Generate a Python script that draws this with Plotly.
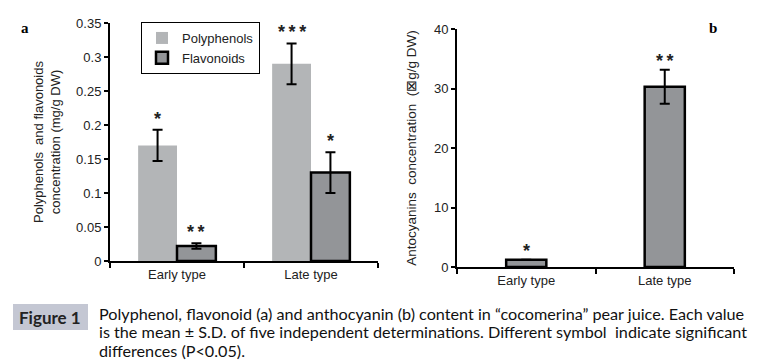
import plotly.graph_objects as go

# ---- data ----
categories = ["Early type", "Late type"]
polyphenols = [0.17, 0.29]
polyphenols_sd = [0.023, 0.03]
flavonoids = [0.022, 0.13]
flavonoids_sd = [0.004, 0.03]
poly_sig = ["*", "***"]
flav_sig = ["**", "*"]

anthocyanins = [1.2, 30.3]
anthocyanins_sd = [0.0, 2.85]
antho_sig = ["*", "**"]

caption_label = "Figure 1"
caption_lines = [
    "Polyphenol, flavonoid (a) and anthocyanin (b) content in \u201ccocomerina\u201d pear juice. Each value",
    "is the mean \u00b1 S.D. of five independent determinations. Different symbol  indicate significant",
    "differences (P<0.05).",
]

LIGHT = "#b3b5b7"
DARK = "#939598"
W = 0.29
FONT = "Liberation Sans, Arial, sans-serif"

fig = go.Figure()

fig.add_trace(go.Bar(
    x=categories, y=polyphenols, name="Polyphenols",
    width=W, offset=-W, marker=dict(color=LIGHT, line=dict(width=0)),
    error_y=dict(type="data", array=polyphenols_sd, color="black", thickness=2, width=5),
    xaxis="x", yaxis="y"))
fig.add_trace(go.Bar(
    x=categories, y=flavonoids, name="Flavonoids",
    width=W, offset=0, marker=dict(color=DARK, line=dict(color="black", width=2.5)),
    error_y=dict(type="data", array=flavonoids_sd, color="black", thickness=2, width=5),
    xaxis="x", yaxis="y"))
fig.add_trace(go.Bar(
    x=categories, y=anthocyanins, name="Anthocyanins", showlegend=False,
    width=W, offset=-W / 2, marker=dict(color=DARK, line=dict(color="black", width=2.5)),
    error_y=dict(type="data", array=anthocyanins_sd, color="black", thickness=2, width=5),
    xaxis="x2", yaxis="y2"))


def stars(s):
    return "<b>" + "\u2009".join(s) + "</b>"


STAR_FONT = dict(family=FONT, size=18, color="#222")
ann = []
for i in range(len(categories)):
    ann.append(dict(x=i - W / 2, y=polyphenols[i] + polyphenols_sd[i], xref="x", yref="y",
                    text=stars(poly_sig[i]), showarrow=False, yanchor="bottom", yshift=-1,
                    font=STAR_FONT))
    ann.append(dict(x=i + W / 2, y=flavonoids[i] + flavonoids_sd[i], xref="x", yref="y",
                    text=stars(flav_sig[i]), showarrow=False, yanchor="bottom", yshift=-1,
                    font=STAR_FONT))
    ann.append(dict(x=i, y=anthocyanins[i] + anthocyanins_sd[i], xref="x2", yref="y2",
                    text=stars(antho_sig[i]), showarrow=False, yanchor="bottom", yshift=-3,
                    font=STAR_FONT))

ann += [
    dict(x=25 / 775, y=1 - 28 / 364, xref="paper", yref="paper", text="<b>a</b>", showarrow=False,
         xanchor="center", yanchor="middle",
         font=dict(family="Liberation Serif, serif", size=15, color="black")),
    dict(x=713 / 775, y=1 - 28 / 364, xref="paper", yref="paper", text="<b>b</b>", showarrow=False,
         xanchor="center", yanchor="middle",
         font=dict(family="Liberation Serif, serif", size=15, color="black")),
    dict(x=50.5 / 775, y=1 - 317 / 364, xref="paper", yref="paper", text="<b>" + caption_label + "</b>",
         showarrow=False, xanchor="center", yanchor="middle",
         font=dict(family="Lato, sans-serif", size=17, color="#222")),
]
for k, line in enumerate(caption_lines):
    ann.append(dict(x=97 / 775, y=1 - (313 + 18.5 * k) / 364, xref="paper", yref="paper", text=line,
                    showarrow=False, xanchor="left", yanchor="middle", align="left",
                    font=dict(family="Lato, sans-serif", size=16.2, color="#111")))

shapes = [dict(type="rect", xref="paper", yref="paper", x0=13 / 775, x1=88 / 775,
               y0=1 - 330 / 364, y1=1 - 304 / 364, fillcolor="#c4c7d3", line=dict(width=0), layer="below")]

axis_common = dict(showline=True, linecolor="black", linewidth=2, showgrid=False, zeroline=False,
                   tickfont=dict(family=FONT, size=13, color="#222"), ticks="outside",
                   tickcolor="black", tickwidth=1.5, automargin=False)

fig.update_layout(
    width=775, height=364, margin=dict(l=0, r=0, t=0, b=0, autoexpand=False),
    paper_bgcolor="white", plot_bgcolor="white",
    barmode="overlay", showlegend=True,
    legend=dict(x=141 / 775, y=1 - 22 / 364, xanchor="left", yanchor="top",
                bordercolor="black", borderwidth=1, bgcolor="white",
                font=dict(family=FONT, size=13, color="#222"), itemwidth=30,
                tracegroupgap=0),
    xaxis=dict(domain=[110 / 775, 378 / 775], anchor="y", type="category",
               tickson="boundaries", ticklen=5, **axis_common),
    yaxis=dict(domain=[1 - 261 / 364, 1 - 23 / 364], anchor="x", range=[0, 0.35],
               tickvals=[0, 0.05, 0.1, 0.15, 0.2, 0.25, 0.3, 0.35],
               ticktext=["0", "0.05", "0.1", "0.15", "0.2", "0.25", "0.3", "0.35"],
               ticklen=4,
               title=dict(text="Polyphenols  and flavonoids<br>concentration (mg/g DW)", standoff=13,
                          font=dict(family=FONT, size=13, color="#222")),
               **axis_common),
    xaxis2=dict(domain=[457 / 775, 734 / 775], anchor="y2", type="category",
                tickson="boundaries", ticklen=5, **axis_common),
    yaxis2=dict(domain=[1 - 267 / 364, 1 - 29 / 364], anchor="x2", range=[0, 40],
                tickvals=[0, 10, 20, 30, 40], ticklen=4,
                title=dict(text="Antocyanins  concentration  (\u22a0g/g DW)", standoff=14,
                           font=dict(family=FONT, size=13.5, color="#222")),
                **axis_common),
    annotations=ann, shapes=shapes,
)

fig.write_html("out.html", config={"displayModeBar": False},
               post_script="document.body.style.margin='0';document.body.style.padding='0';")
